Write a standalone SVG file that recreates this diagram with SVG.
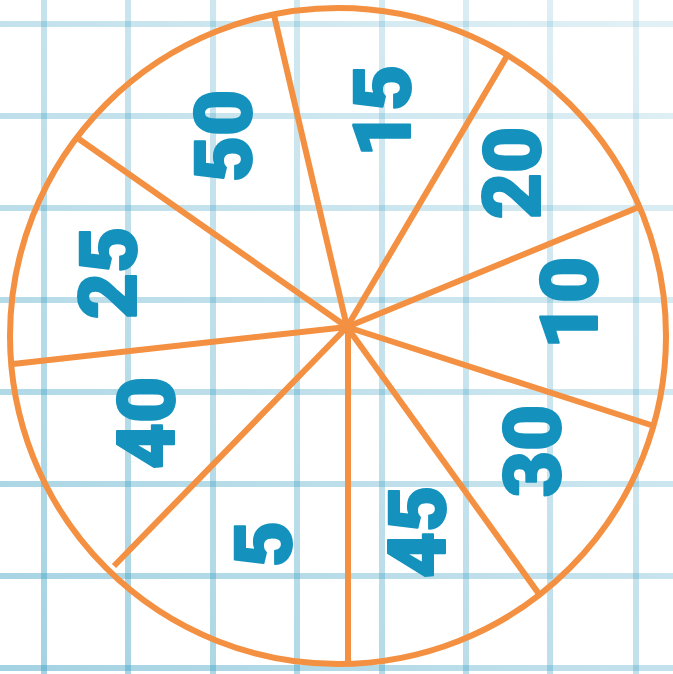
<svg xmlns="http://www.w3.org/2000/svg" width="673" height="674" viewBox="0 0 673 674">
  <defs>
    <linearGradient id="gridGrad" gradientUnits="userSpaceOnUse" x1="673" y1="0" x2="0" y2="674">
      <stop offset="0" stop-color="#47a5c5" stop-opacity="0.15"/>
      <stop offset="1" stop-color="#47a5c5" stop-opacity="0.5"/>
    </linearGradient>
    <style>
      .grid line { stroke: url(#gridGrad); stroke-width: 6; }
      .wheel { fill: none; stroke: #f39041; stroke-width: 6; stroke-linecap: butt; }
      .lbl { font-family: Roboto, "Open Sans", "Liberation Sans", sans-serif; font-weight: 900; font-size: 80px; fill: #1492bd; stroke: #1492bd; stroke-width: 2; stroke-linejoin: round; text-anchor: middle; }
    </style>
  </defs>
  <rect width="673" height="674" fill="#ffffff"/>
  <g id="grid" class="grid">
    <line x1="44" y1="0" x2="44" y2="674"/>
    <line x1="128" y1="0" x2="128" y2="674"/>
    <line x1="213" y1="0" x2="213" y2="674"/>
    <line x1="297" y1="0" x2="297" y2="674"/>
    <line x1="382" y1="0" x2="382" y2="674"/>
    <line x1="466" y1="0" x2="466" y2="674"/>
    <line x1="550" y1="0" x2="550" y2="674"/>
    <line x1="636" y1="0" x2="636" y2="674"/>
    <line x1="0" y1="24" x2="673" y2="24"/>
    <line x1="0" y1="116" x2="673" y2="116"/>
    <line x1="0" y1="208" x2="673" y2="208"/>
    <line x1="0" y1="300" x2="673" y2="300"/>
    <line x1="0" y1="392" x2="673" y2="392"/>
    <line x1="0" y1="484" x2="673" y2="484"/>
    <line x1="0" y1="576" x2="673" y2="576"/>
    <line x1="0" y1="668" x2="673" y2="668"/>
  </g>
  <g id="wheel-rim">
    <circle class="wheel" cx="338" cy="336" r="328"/>
  </g>
  <g id="spokes" class="wheel">
    <line x1="347" y1="327" x2="274" y2="15"/>
    <line x1="347" y1="327" x2="507" y2="56"/>
    <line x1="347" y1="327" x2="639" y2="207"/>
    <line x1="347" y1="327" x2="654" y2="426"/>
    <line x1="347" y1="327" x2="539" y2="594"/>
    <line x1="348" y1="327" x2="348" y2="665"/>
    <line x1="347" y1="327" x2="114" y2="566"/>
    <line x1="347" y1="327" x2="13" y2="364"/>
    <line x1="347" y1="327" x2="76" y2="137"/>
  </g>
  <g id="label-50"><text class="lbl" transform="translate(222,136) rotate(-90)" y="29">50</text></g>
  <g id="label-15"><text class="lbl" transform="translate(381,111) rotate(-90)" y="29">15</text></g>
  <g id="label-20"><text class="lbl" transform="translate(511,173) rotate(-90)" y="29">20</text></g>
  <g id="label-10"><text class="lbl" transform="translate(568,303) rotate(-90)" y="29">10</text></g>
  <g id="label-30"><text class="lbl" transform="translate(531,451) rotate(-90)" y="29">30</text></g>
  <g id="label-45"><text class="lbl" transform="translate(416,532) rotate(-90)" y="29">45</text></g>
  <g id="label-5"><text class="lbl" transform="translate(262,544) rotate(-90)" y="29">5</text></g>
  <g id="label-40"><text class="lbl" transform="translate(145,423) rotate(-90)" y="29">40</text></g>
  <g id="label-25"><text class="lbl" transform="translate(107,273) rotate(-90)" y="29">25</text></g>
</svg>
